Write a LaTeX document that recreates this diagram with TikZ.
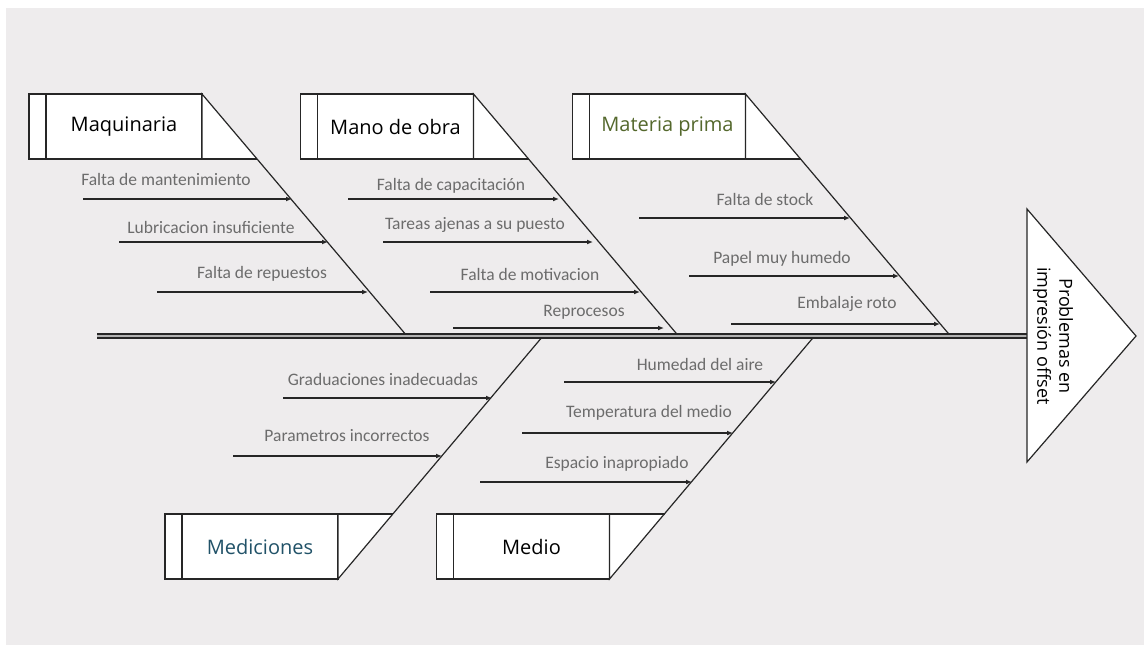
\documentclass[tikz,border=0pt]{standalone}
\usepackage{fontspec}
\setmainfont{Open Sans}
\newfontfamily\causefont{Carlito}
\usetikzlibrary{positioning,calc,arrows.meta}
\definecolor{bgcol}{RGB}{238,236,237}
\definecolor{linecol}{RGB}{38,38,38}
\definecolor{txtcol}{RGB}{108,108,108}
\definecolor{mpcol}{RGB}{84,104,44}
\definecolor{mdcol}{RGB}{33,82,104}
\tikzset{
    x=1pt,
    y=-1pt,
    >={Latex[length=6pt,width=5pt]},
    category/.style = {
        draw=linecol,
        fill=white,
        shape=rectangle,
        minimum width=156pt,
        minimum height=65pt,
        inner sep=0pt,
        outer sep=0pt,
        line width=1.2pt,
        font=\fontsize{20}{24}\selectfont
    },
    tab/.style = {
        draw=linecol,
        fill=white,
        shape=rectangle,
        minimum width=17pt,
        minimum height=65pt,
        inner sep=0pt,
        outer sep=0pt,
        line width=1.2pt
    },
    cause/.style = {
        anchor=base,
        inner sep=0pt,
        text=txtcol,
        font=\causefont\fontsize{17.5}{20}\selectfont
    },
    bone/.style = {draw=linecol, line width=1.2pt},
    causeline/.style = {draw=linecol, line width=1.2pt, ->},
    spine/.style = {draw=linecol, line width=1.3pt, double=gray!60, double distance=2.5pt},
}
\begin{document}
\begin{tikzpicture}
    \useasboundingbox (0,0) rectangle (1144,645);
    \fill[bgcol] (6,8) rectangle (1144,645);

    % categories
    \node[category] (maq) at (124,126.5) {Maquinaria};
    \node[tab, left=0pt of maq] (maqtab) {};
    \node[category] (mano) at (395.5,126.5) {Mano de obra};
    \node[tab, left=0pt of mano] (manotab) {};
    \node[category, text=mpcol] (mat) at (667.5,126.5) {Materia prima};
    \node[tab, left=0pt of mat] (mattab) {};
    \node[category, text=mdcol] (medc) at (260,546.5) {Mediciones};
    \node[tab, left=0pt of medc] (medctab) {};
    \node[category] (medio) at (531.5,546.5) {Medio};
    \node[tab, left=0pt of medio] (mediotab) {};

    \coordinate (s1) at (407,336);
    \coordinate (s2) at (678.5,336);
    \coordinate (s3) at (950.5,336);
    \coordinate (s4) at (543,336);
    \coordinate (s5) at (814.5,336);

    \fill[white] (maq.north east) -- ++(55,65) -- (maq.south east) -- cycle;
    \path[bone] (maq.south east) -- (maq.north east) -- (s1);
    \path[bone] (maq.south east) -- ++(55,0);
    \fill[white] (mano.north east) -- ++(55,65) -- (mano.south east) -- cycle;
    \path[bone] (mano.south east) -- (mano.north east) -- (s2);
    \path[bone] (mano.south east) -- ++(55,0);
    \fill[white] (mat.north east) -- ++(55,65) -- (mat.south east) -- cycle;
    \path[bone] (mat.south east) -- (mat.north east) -- (s3);
    \path[bone] (mat.south east) -- ++(55,0);
    \fill[white] (medc.south east) -- ++(55,-65) -- (medc.north east) -- cycle;
    \path[bone] (medc.north east) -- (medc.south east) -- (s4);
    \path[bone] (medc.north east) -- ++(55,0);
    \fill[white] (medio.south east) -- ++(55,-65) -- (medio.north east) -- cycle;
    \path[bone] (medio.north east) -- (medio.south east) -- (s5);
    \path[bone] (medio.north east) -- ++(55,0);

    % causes
    \node[cause] (c1) at (166,185) {Falta de mantenimiento};
    \node[cause] (c2) at (211,233) {Lubricacion insuficiente};
    \node[cause] (c3) at (262,278) {Falta de repuestos};
    \node[cause] (c4) at (451,190) {Falta de capacitación};
    \node[cause] (c5) at (475,229) {Tareas ajenas a su puesto};
    \node[cause] (c6) at (530,280) {Falta de motivacion};
    \node[cause] (c7) at (584,316) {Reprocesos};
    \node[cause] (c8) at (765,205) {Falta de stock};
    \node[cause] (c9) at (782,263) {Papel muy humedo};
    \node[cause] (c10) at (847,308) {Embalaje roto};
    \node[cause] (c11) at (383,385) {Graduaciones inadecuadas};
    \node[cause] (c12) at (347,441) {Parametros incorrectos};
    \node[cause] (c13) at (700,370) {Humedad del aire};
    \node[cause] (c14) at (649,417) {Temperatura del medio};
    \node[cause] (c15) at (617,468) {Espacio inapropiado};

    \coordinate (a1) at (83,199);   \coordinate (b1) at (292,199);
    \coordinate (a2) at (119,242);  \coordinate (b2) at (328,242);
    \coordinate (a3) at (157,292);  \coordinate (b3) at (368,292);
    \coordinate (a4) at (348,199);  \coordinate (b4) at (559,199);
    \coordinate (a5) at (383,242);  \coordinate (b5) at (593,242);
    \coordinate (a6) at (430,292);  \coordinate (b6) at (640,292);
    \coordinate (a7) at (453,328);  \coordinate (b7) at (664,328);
    \coordinate (a8) at (639,218);  \coordinate (b8) at (850,218);
    \coordinate (a9) at (689,276);  \coordinate (b9) at (899,276);
    \coordinate (a10) at (731,324); \coordinate (b10) at (940,324);
    \coordinate (a11) at (283,398); \coordinate (b11) at (492,398);
    \coordinate (a12) at (233,456); \coordinate (b12) at (442,456);
    \coordinate (a13) at (564,382); \coordinate (b13) at (776,382);
    \coordinate (a14) at (522,433); \coordinate (b14) at (733,433);
    \coordinate (a15) at (480,482); \coordinate (b15) at (692,482);

    \path[causeline] (a1) -- (b1);
    \path[causeline] (a2) -- (b2);
    \path[causeline] (a3) -- (b3);
    \path[causeline] (a4) -- (b4);
    \path[causeline] (a5) -- (b5);
    \path[causeline] (a6) -- (b6);
    \path[causeline] (a7) -- (b7);
    \path[causeline] (a8) -- (b8);
    \path[causeline] (a9) -- (b9);
    \path[causeline] (a10) -- (b10);
    \path[causeline] (a11) -- (b11);
    \path[causeline] (a12) -- (b12);
    \path[causeline] (a13) -- (b13);
    \path[causeline] (a14) -- (b14);
    \path[causeline] (a15) -- (b15);

    % spine and head
    \coordinate (tail) at (97,336);
    \coordinate (hm) at (1027,336);
    \coordinate (ht) at (1027,209);
    \coordinate (hb) at (1027,462);
    \coordinate (hp) at (1136,336);
    \path[spine] (tail) -- (hm);
    \path[bone, fill=white] (ht) -- (hp) -- (hb) -- cycle;
    \node[rotate=-90, align=center, inner sep=0pt, font=\fontsize{18}{22}\selectfont] (effect) at (1053,336) {Problemas en\\impresión offset};
\end{tikzpicture}
\end{document}
